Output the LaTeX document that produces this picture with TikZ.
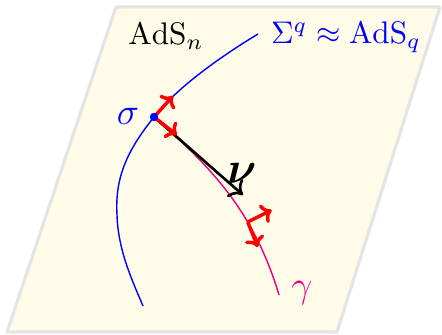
\documentclass[tikz,border=0pt]{standalone}
\usepackage{amsmath,bm}
\usetikzlibrary{arrows.meta,calc}
\definecolor{planefill}{RGB}{254,251,232}
\definecolor{planeedge}{RGB}{228,228,228}
\definecolor{gammacol}{RGB}{230,0,130}
\tikzset{
  plane/.style={fill=planefill,draw=planeedge,line width=1pt,line join=round},
  sigmacurve/.style={blue,line width=0.45pt},
  gammacurve/.style={gammacol,line width=0.45pt},
  redvec/.style={red,line width=1.1pt,-{To[length=3.2pt,width=6.5pt,round]}},
  normalvec/.style={black,line width=0.85pt,-{To[length=3.8pt,width=7.5pt,round]}}
}
\begin{document}
\begin{tikzpicture}[x=0.32pt,y=-0.32pt]
\useasboundingbox (0,0) rectangle (442,334);
\path[plane] (116,7) -- (440,7) -- (337,332) -- (7,332) -- cycle;
\coordinate (s) at (154,117);
% blue surface curve
\draw[sigmacurve] (258,34) .. controls (215,60) and (175,90) .. (s)
   .. controls (125,153) and (115,180) .. (117,215)
   .. controls (118,250) and (132,280) .. (143,306);
% gamma curve
\draw[gammacurve] (s) .. controls (215,170) and (255,215) .. (279,295);
\path (s) .. controls (215,170) and (255,215) .. (279,295) coordinate[pos=0.65] (g);
% normal vector
\coordinate (nu) at (243,195);
\draw[normalvec] (s) -- (nu);
% red frames
\coordinate (t1) at (173,96);
\coordinate (n1) at (177,135);
\draw[redvec] (s) -- (t1);
\draw[redvec] (s) -- (n1);
\coordinate (t2) at ($(g)+(10,25)$);
\coordinate (n2) at ($(g)+(24,-12)$);
\draw[redvec] (g) -- (t2);
\draw[redvec] (g) -- (n2);
\fill[blue] (s) circle[radius=4.2];
% labels
\node (adsn) at (166,36) {$\mathrm{AdS}_n$};
\node[blue] (sig) at (346,37) {$\Sigma^q \approx \mathrm{AdS}_q$};
\node[blue] (sl) at (128,116) {\large$\sigma$};
\node (nul) at (242,174) {\Large$\bm{\nu}$};
\node[gammacol] (gl) at (302,293) {\large$\gamma$};
\end{tikzpicture}
\end{document}
